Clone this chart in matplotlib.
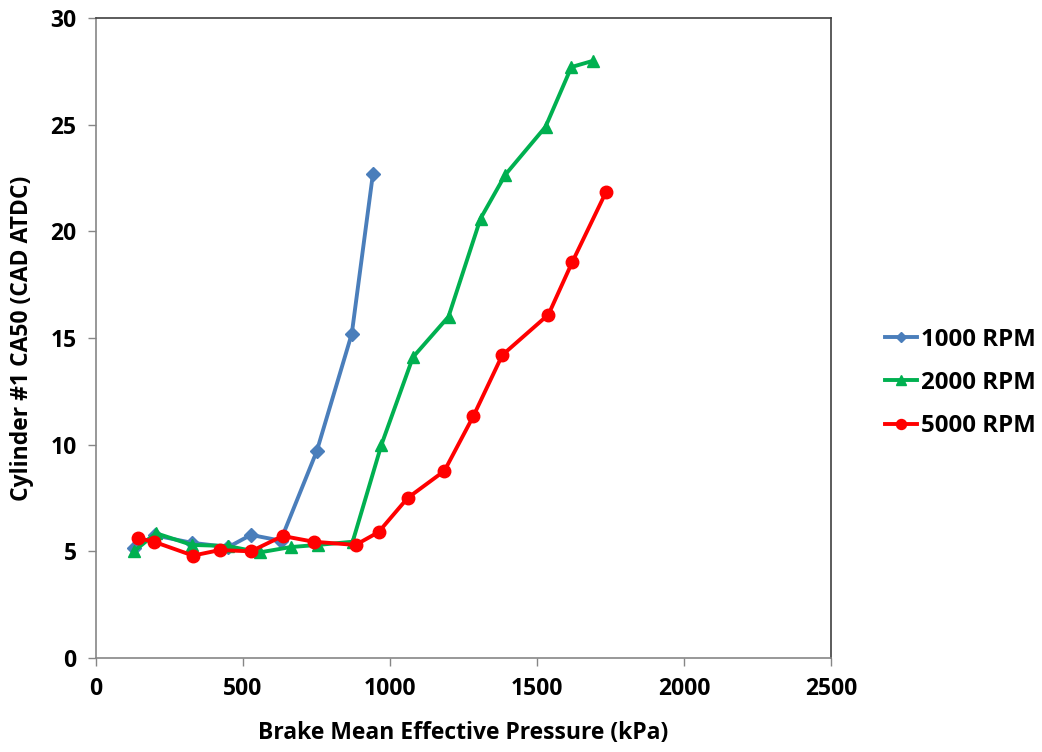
import matplotlib.pyplot as plt

plt.rcParams["font.family"] = ["Open Sans", "DejaVu Sans"]
plt.rcParams["font.weight"] = "bold"

# 1000 RPM
bmep_1000 = [128, 200, 326, 450, 527, 628, 751, 870, 942]
ca50_1000 = [5.15, 5.75, 5.4, 5.2, 5.77, 5.5, 9.7, 15.2, 22.7]

# 2000 RPM
bmep_2000 = [129, 204, 326, 448, 557, 662, 754, 873, 971, 1078, 1199, 1308, 1392, 1529, 1617, 1692]
ca50_2000 = [5.0, 5.85, 5.3, 5.25, 4.95, 5.2, 5.3, 5.45, 10.0, 14.1, 16.0, 20.6, 22.65, 24.9, 27.7, 28.0]

# 5000 RPM
bmep_5000 = [143, 197, 330, 421, 527, 635, 740, 883, 961, 1060, 1185, 1284, 1382, 1539, 1620, 1735]
ca50_5000 = [5.62, 5.45, 4.8, 5.06, 5.0, 5.72, 5.45, 5.3, 5.9, 7.5, 8.77, 11.35, 14.2, 16.1, 18.56, 21.85]

fig = plt.figure(figsize=(10.42, 7.52), dpi=100)
ax = fig.add_axes([96 / 1042, 1 - 658 / 752, (831 - 96) / 1042, (658 - 18) / 752])

ax.plot(bmep_1000, ca50_1000, color="#4a7ebb", lw=2.8, marker="D", ms=7, label="1000 RPM")
ax.plot(bmep_2000, ca50_2000, color="#00b050", lw=2.8, marker="^", ms=9, label="2000 RPM")
ax.plot(bmep_5000, ca50_5000, color="#ff0000", lw=2.8, marker="o", ms=9, label="5000 RPM")

ax.set_xlim(0, 2500)
ax.set_ylim(0, 30)
ax.set_xticks(range(0, 2501, 500))
ax.set_yticks(range(0, 31, 5))

for side in ["left", "bottom"]:
    ax.spines[side].set_color("#868686")
    ax.spines[side].set_linewidth(1.2)
for side in ["top", "right"]:
    ax.spines[side].set_color("#404040")
    ax.spines[side].set_linewidth(1.2)

ax.tick_params(axis="both", direction="out", length=6, width=1, color="#868686",
               labelsize=16.5, pad=8)
for lbl in ax.get_xticklabels() + ax.get_yticklabels():
    lbl.set_fontweight("bold")

ax.set_xlabel("Brake Mean Effective Pressure (kPa)", fontsize=16.5, fontweight="bold", labelpad=14)
ax.set_ylabel("Cylinder #1 CA50 (CAD ATDC)", fontsize=16.5, fontweight="bold", labelpad=12)

leg = ax.legend(loc="center left", bbox_to_anchor=(1.06, 0.43), frameon=False,
                fontsize=17.3, handlelength=1.35, handletextpad=0.15, labelspacing=0.8,
                markerscale=0.8, borderaxespad=0)
for t in leg.get_texts():
    t.set_fontweight("bold")

fig.savefig("out.png", dpi=100)
